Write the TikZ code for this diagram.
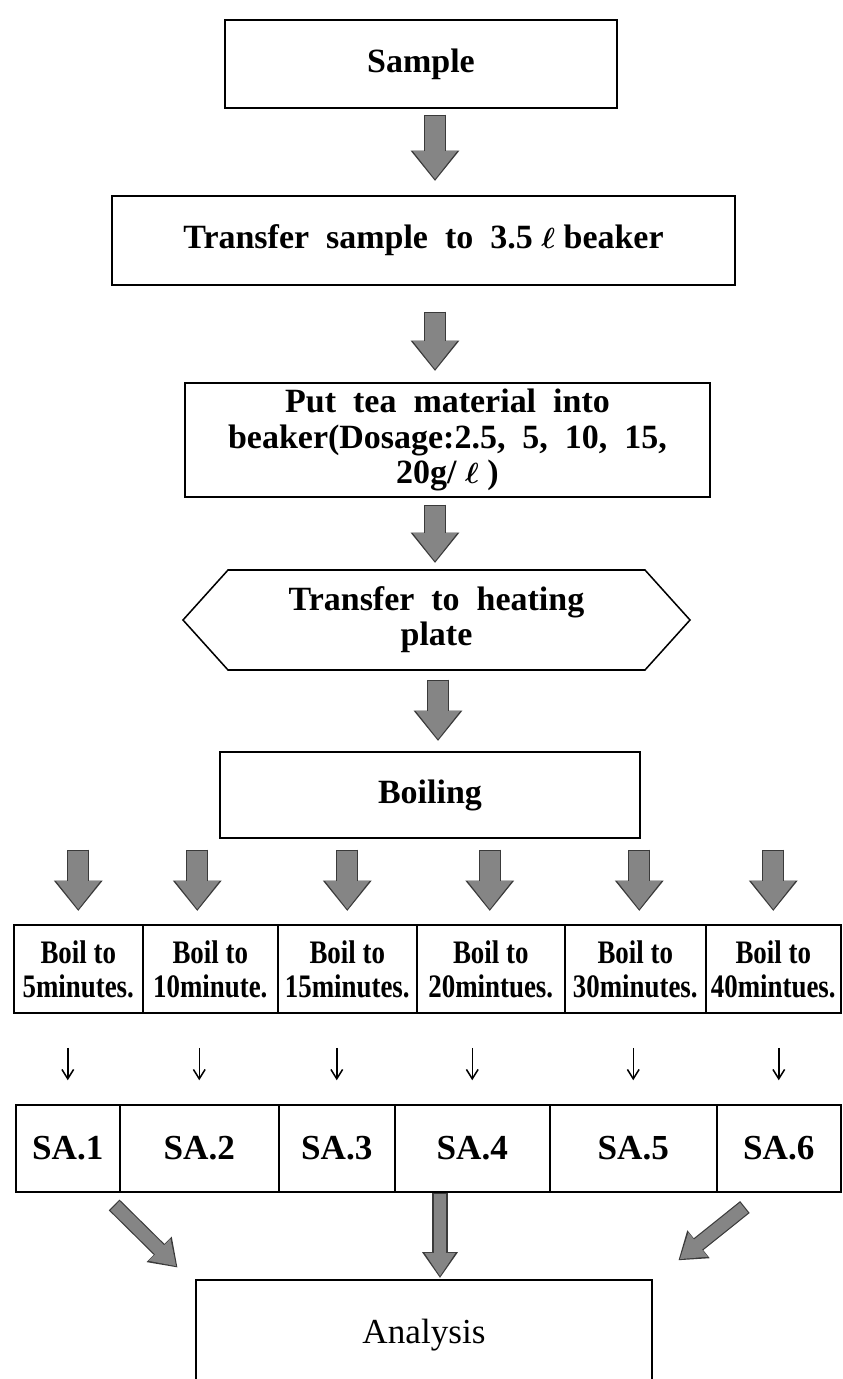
\documentclass[tikz,border=0pt]{standalone}
\usepackage{fontspec}
\setmainfont{Liberation Serif}
\newfontfamily\condfont[FakeStretch=0.82]{Liberation Serif}
\usepackage{tikz}
\usetikzlibrary{positioning,arrows.meta,shapes.symbols,calc}
\definecolor{arrowgray}{HTML}{858585}
\definecolor{arrowedge}{HTML}{3A3A3A}
\newcommand{\pxu}{0.03cm}

\begin{document}
\begin{tikzpicture}[
x=0.03cm, y=-0.03cm,
box/.style={draw, line width=1.3pt, align=center, inner sep=2pt, font=\fontsize{29}{30}\selectfont\bfseries\boldmath},
cell/.style={draw, line width=1.3pt, align=center, inner sep=0pt, anchor=west, minimum height=88*\pxu, font=\condfont\fontsize{28}{29}\selectfont\bfseries},
sabox/.style={draw, line width=1.3pt, align=center, inner sep=0pt, anchor=west, minimum height=87*\pxu, font=\fontsize{30}{30}\selectfont\bfseries},
bigarrow/.style={arrowgray, line width=17pt, -{Triangle[width=36pt,length=24pt]},
  preaction={draw=arrowedge, line width=19pt, -{Triangle[width=40pt,length=26pt]}, shorten >=-1.5pt, shorten <=-1pt}},
slimarrow/.style={arrowgray, line width=11pt, -{Triangle[width=25pt,length=20pt]},
  preaction={draw=arrowedge, line width=13pt, -{Triangle[width=29pt,length=22pt]}, shorten >=-1.5pt, shorten <=-1pt}},
smallarrow/.style={line width=1.3pt, -{Straight Barb[length=8pt,width=10pt]}}
]
\useasboundingbox (0,0) rectangle (842,1379);
\coordinate (axis) at (435,0);

% main column
\node[box, minimum width=392*\pxu, minimum height=88*\pxu] (sample) at (421,64) {Sample};
\node[box, minimum width=623*\pxu, minimum height=89*\pxu] (transfer) at (423.5,240.5) {Transfer\ \ sample\ \ to\ \ 3.5 $\ell$ beaker};
\node[box, minimum width=525*\pxu, minimum height=114*\pxu] (tea) at (447.5,440) {Put\ \ tea\ \ material\ \ into\\beaker(Dosage:2.5,\ \ 5,\ \ 10,\ \ 15,\\20g/ $\ell$ )};
\node[box, shape=signal, signal to=west and east, signal pointer angle=96, minimum width=507*\pxu, minimum height=100*\pxu] (heating) at (436.5,620) {Transfer\ \ to\ \ heating\\plate};
\node[box, minimum width=420*\pxu, minimum height=86*\pxu] (boiling) at (430,795) {Boiling};

\draw[bigarrow] ($(sample.south -| axis)+(0,7)$) -- ($(transfer.north -| axis)+(0,-16)$);
\draw[bigarrow] ($(transfer.south -| axis)+(0,27)$) -- ($(tea.north -| axis)+(0,-13)$);
\draw[bigarrow] ($(tea.south -| axis)+(0,8)$) -- ($(heating.north -| axis)+(0,-8)$);
\draw[bigarrow] ($(heating.south -| axis)+(3,10)$) -- ($(boiling.north -| axis)+(3,-12)$);

% boiling times
\foreach \i/\x/\w/\t in {1/13/129/5minutes., 2/142/135/10minute., 3/277/139/15minutes.,
  4/416/148/20mintues., 5/564/141/30minutes., 6/705/135/40mintues.}
  \node[cell, minimum width=\w*\pxu] (boil\i) at (\x,969) {Boil to\\\t};

\foreach \i/\dx in {1/0, 2/-13, 3/0, 4/-1, 5/4, 6/0}
  \draw[bigarrow] ($(boiling.south -| boil\i.north)+(\dx,12)$) -- ($(boil\i.north)+(\dx,-15)$);

% samples
\foreach \i/\x/\w in {1/15/104, 2/119/159, 3/278/116, 4/394/155, 5/549/167, 6/716/124}
  \node[sabox, minimum width=\w*\pxu] (sa\i) at (\x,1148.5) {SA.\i};

\foreach \i in {1,...,6}
  \draw[smallarrow] ($(boil\i.south -| sa\i.north)+(0,34)$) -- ($(sa\i.north)+(0,-24)$);

\node[draw, line width=1.3pt, minimum width=456*\pxu, minimum height=110*\pxu, font=\fontsize{30}{30}\selectfont] (analysis) at (424,1335) {Analysis};

\draw[slimarrow] ($(sa2.south west)+(-4,13)$) -- ($(analysis.north west)+(-19,-13)$);
\draw[slimarrow] ($(analysis.north |- sa4.south)+(16,1)$) -- ($(analysis.north)+(16,-3)$);
\draw[slimarrow] ($(sa6.south west)+(28,15)$) -- ($(analysis.north east)+(27,-20)$);
\end{tikzpicture}
\end{document}
